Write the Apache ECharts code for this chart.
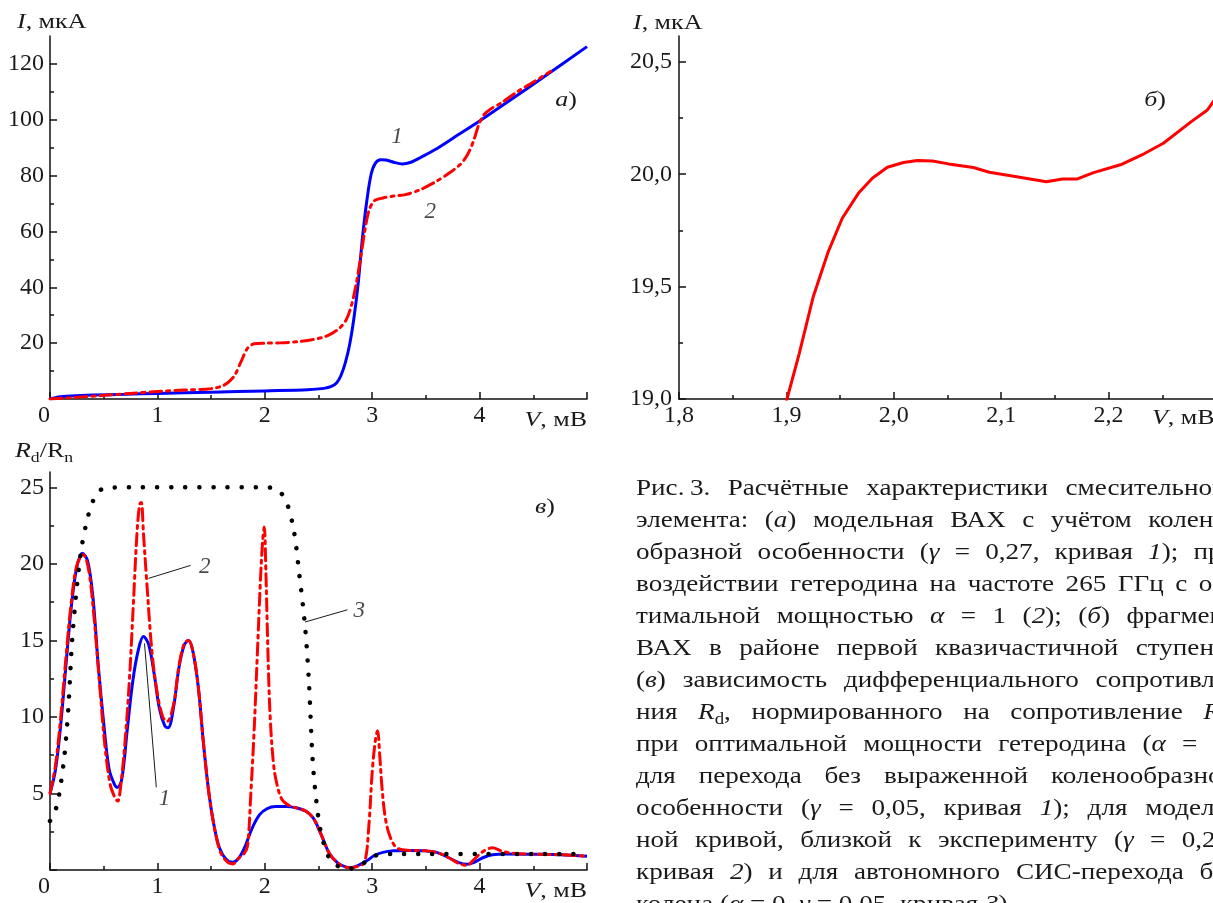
<!DOCTYPE html>
<html>
<head>
<meta charset="utf-8">
<title>Рис. 3</title>
<script src="https://cdn.jsdelivr.net/npm/echarts@6/dist/echarts.min.js"></script>
<style>
html, body { margin: 0; padding: 0; background: #fff; }
#main { width: 1213px; height: 903px; }
</style>
</head>
<body>
<div id="main"></div>
<script>
"use strict";
// (а) модельная ВАХ: кривая 1 и кривая 2
var ivcV1 = [0, 0.05, 0.1, 0.2, 0.4, 0.7, 1.0, 1.5, 2.0, 2.4, 2.55, 2.62, 2.67, 2.71, 2.75, 2.79, 2.83, 2.87, 2.91, 2.95, 2.99, 3.03, 3.08, 3.13, 3.2, 3.28, 3.36, 3.45, 3.6, 3.8, 4.0, 4.3, 4.6, 5.0];
var ivcI1 = [0, 0.5, 0.8, 1.1, 1.4, 1.7, 2.0, 2.4, 2.9, 3.3, 3.8, 4.5, 5.8, 8.5, 13, 19.5, 29, 41.6, 58, 71, 80.5, 84.5, 85.7, 85.6, 84.8, 84.2, 84.8, 86.5, 89.6, 94.6, 99.6, 107.4, 115.4, 126.2];
var ivcV2 = [0, 0.25, 0.5, 0.75, 1.0, 1.25, 1.5, 1.6, 1.66, 1.72, 1.78, 1.84, 1.9, 2.0, 2.15, 2.3, 2.45, 2.55, 2.63, 2.7, 2.76, 2.81, 2.85, 2.89, 2.93, 2.97, 3.02, 3.1, 3.2, 3.31, 3.45, 3.6, 3.72, 3.82, 3.88, 3.94, 3.99, 4.04, 4.1, 4.2, 4.35, 4.5, 4.66];
var ivcI2 = [0, 0.6, 1.3, 2.0, 2.7, 3.2, 3.7, 4.6, 6.0, 8.5, 13.5, 18.2, 19.8, 20.0, 20.1, 20.5, 21.3, 22.2, 23.6, 25.5, 28.5, 34, 41, 50, 60, 67.5, 71, 72, 72.7, 73.2, 75, 78, 81, 84, 87, 92, 98, 101.8, 103.8, 106, 110, 113.5, 117.3];

// (б) фрагмент ВАХ
var fragV = [1.900, 1.912, 1.925, 1.939, 1.952, 1.967, 1.980, 1.994, 2.009, 2.022, 2.036, 2.051, 2.074, 2.089, 2.113, 2.142, 2.157, 2.171, 2.186, 2.211, 2.233, 2.251, 2.277, 2.292, 2.300];
var fragI = [18.99, 19.203, 19.455, 19.656, 19.804, 19.915, 19.982, 20.031, 20.052, 20.061, 20.059, 20.046, 20.03, 20.009, 19.99, 19.967, 19.979, 19.979, 20.007, 20.042, 20.091, 20.138, 20.234, 20.286, 20.34];

// (в) Rd/Rn: кривые 1, 2, 3
var rdV1 = [0.00, 0.05, 0.10, 0.15, 0.20, 0.25, 0.30, 0.35, 0.40, 0.45, 0.50, 0.55, 0.60, 0.63, 0.67, 0.72, 0.77, 0.82, 0.87, 0.92, 0.97, 1.02, 1.07, 1.10, 1.15, 1.20, 1.25, 1.29, 1.33, 1.38, 1.43, 1.48, 1.53, 1.58, 1.64, 1.70, 1.76, 1.82, 1.88, 1.95, 2.02, 2.10, 2.20, 2.30, 2.38, 2.45, 2.52, 2.60, 2.68, 2.75, 2.80, 2.87, 2.95, 3.02, 3.10, 3.20, 3.35, 3.50, 3.60, 3.70, 3.80, 3.88, 3.95, 4.03, 4.12, 4.25, 4.50, 4.75, 5.00];
var rdR1 = [5.0, 6.5, 9.5, 13.5, 17.3, 19.8, 20.7, 20.2, 17.8, 13.3, 9.6, 6.6, 5.6, 5.4, 6.0, 9.2, 12.3, 14.3, 15.25, 14.7, 12.8, 10.5, 9.4, 9.3, 10.6, 13.2, 14.7, 15.0, 14.3, 12.0, 8.2, 5.0, 2.8, 1.4, 0.7, 0.5, 0.8, 1.6, 2.7, 3.6, 4.0, 4.15, 4.15, 4.05, 3.85, 3.4, 2.4, 1.1, 0.45, 0.2, 0.15, 0.3, 0.6, 0.95, 1.15, 1.25, 1.28, 1.25, 1.15, 0.85, 0.5, 0.37, 0.5, 0.8, 1.0, 1.05, 1.03, 1.0, 0.9];
var rdV2 = [0.00, 0.05, 0.10, 0.15, 0.20, 0.25, 0.31, 0.36, 0.41, 0.46, 0.51, 0.56, 0.60, 0.63, 0.66, 0.70, 0.74, 0.775, 0.81, 0.835, 0.85, 0.87, 0.90, 0.95, 1.00, 1.05, 1.09, 1.15, 1.20, 1.25, 1.29, 1.33, 1.38, 1.43, 1.48, 1.53, 1.58, 1.64, 1.70, 1.76, 1.81, 1.84, 1.87, 1.90, 1.93, 1.96, 1.98, 1.995, 2.01, 2.03, 2.05, 2.08, 2.11, 2.16, 2.23, 2.30, 2.38, 2.45, 2.52, 2.60, 2.68, 2.75, 2.80, 2.87, 2.93, 2.97, 3.00, 3.03, 3.05, 3.07, 3.09, 3.12, 3.16, 3.22, 3.30, 3.50, 3.60, 3.70, 3.80, 3.88, 3.95, 4.03, 4.12, 4.20, 4.30, 4.50, 4.75, 5.00];
var rdR2 = [5.0, 6.8, 10.0, 14.0, 17.6, 19.9, 20.6, 19.6, 16.5, 12.3, 8.2, 5.6, 4.8, 4.5, 5.6, 8.5, 12.5, 17.2, 22.0, 23.9, 24.0, 22.0, 18.9, 14.2, 11.5, 10.0, 9.7, 10.8, 13.3, 14.8, 15.0, 14.3, 12.0, 8.2, 5.0, 2.8, 1.3, 0.6, 0.4, 0.8, 1.1, 1.6, 5.0, 9.0, 14.0, 19.0, 21.5, 22.4, 19.5, 14.0, 10.0, 7.0, 5.7, 4.6, 4.2, 4.05, 3.85, 3.4, 2.4, 1.1, 0.45, 0.2, 0.15, 0.25, 0.5, 3.0, 6.4, 8.5, 9.1, 7.5, 5.5, 3.5, 2.3, 1.5, 1.3, 1.25, 1.15, 0.85, 0.45, 0.3, 0.7, 1.2, 1.45, 1.25, 1.1, 1.03, 1.0, 0.9];
var rdV3 = [0, 0.03, 0.064, 0.10, 0.135, 0.17, 0.206, 0.25, 0.295, 0.35, 0.40, 0.45, 0.51, 0.8, 1.2, 1.6, 2.0, 2.07, 2.14, 2.2, 2.27, 2.32, 2.375, 2.41, 2.445, 2.48, 2.52, 2.57, 2.62, 2.7, 2.8, 2.88, 2.94, 3.0, 3.09, 3.2, 3.5, 4.0, 4.5, 5.0];
var rdR3 = [3.2, 3.6, 4.2, 5.6, 7.5, 10.5, 15.0, 18.5, 21.1, 23.0, 24.1, 24.7, 24.95, 25, 25, 25, 25, 24.95, 24.7, 24.1, 22.2, 19.4, 15.9, 12.4, 7.25, 4.5, 2.5, 1.3, 0.55, 0.2, 0.1, 0.25, 0.55, 0.85, 1.04, 1.05, 1.05, 1.05, 1.05, 1.05];

// выноски и номера кривых
var leadC1 = [[0.88, 14.8], [0.99, 5.4]];
var leadC2 = [[0.917, 19.05], [1.31, 19.9]];
var leadC3 = [[2.375, 16.2], [2.77, 17.0]];
var tagsA = [[3.23, 94, "1"], [3.54, 67, "2"]];
var tagsC = [[1.067, 4.65, "1"], [1.44, 19.8, "2"], [2.88, 16.9, "3"]];

// деления осей
var vMajor = [0, 1, 2, 3, 4, 5], vMinor = [0.5, 1.5, 2.5, 3.5, 4.5], vLabels = [0, 1, 2, 3, 4];
var iMajor = [0, 20, 40, 60, 80, 100, 120], iMinor = [10, 30, 50, 70, 90, 110], iLabels = [20, 40, 60, 80, 100, 120];
var fvMajor = [1.8, 1.9, 2.0, 2.1, 2.2, 2.3], fvMinor = [1.85, 1.95, 2.05, 2.15, 2.25], fvLabels = [1.8, 1.9, 2.0, 2.1, 2.2];
var fiMajor = [19, 19.5, 20, 20.5], fiMinor = [19.25, 19.75, 20.25], fiLabels = [19, 19.5, 20, 20.5];
var rMajor = [0, 5, 10, 15, 20, 25], rMinor = [2.5, 7.5, 12.5, 17.5, 22.5], rLabels = [5, 10, 15, 20, 25];

var captionLines = [
    "Рис.\u20093. Расчётные характеристики смесительного",
    "элемента: ({i|а}) модельная ВАХ с учётом колено-",
    "образной особенности ({i|γ} = 0,27, кривая {i|1}); при",
    "воздействии гетеродина на частоте 265 ГГц с оп-",
    "тимальной мощностью {i|α} = 1 ({i|2}); ({i|б}) фрагмент",
    "ВАХ в районе первой квазичастичной ступени;",
    "({i|в}) зависимость дифференциального сопротивле-",
    "ния {i|R}{s|d}, нормированного на сопротивление {i|R}{s|n},",
    "при оптимальной мощности гетеродина ({i|α} = 1)",
    "для перехода без выраженной коленообразной",
    "особенности ({i|γ} = 0,05, кривая {i|1}); для модель-",
    "ной кривой, близкой к эксперименту ({i|γ} = 0,27,",
    "кривая {i|2}) и для автономного СИС-перехода без",
    "колена ({i|α} = 0, {i|γ} = 0,05, кривая {i|3})."
];

var INK = "#1a1a1a", SERIF = "Liberation Serif";
var WIDEN = 1.18; // латинский Times уже шрифта оригинала

function zip(xs, ys) {
    return xs.map(function (x, i) { return [x, ys[i]]; });
}
function comma(v) {
    return v.toFixed(1).replace(".", ",");
}

// пара осей: основная (линия, длинные деления, подписи) и вспомогательная (короткие деления)
function axisPair(dim, grid, min, max, major, minor, labels, fmt, labelExtra) {
    var base = {
        type: "value", gridIndex: grid, min: min, max: max,
        position: dim === "x" ? "bottom" : "left",
        splitLine: {show: false}
    };
    var main = Object.assign({}, base, {
        axisLine: {show: true, onZero: false, lineStyle: {color: "#111", width: 1.5}},
        axisTick: {show: true, inside: true, length: 7, customValues: major, lineStyle: {color: "#111", width: 1.5}},
        axisLabel: Object.assign({
            show: true, customValues: labels, formatter: fmt, color: INK,
            fontFamily: SERIF, fontSize: 24, margin: dim === "x" ? 5 : 6
        }, labelExtra || {})
    });
    var sub = Object.assign({}, base, {
        axisLine: {show: false, onZero: false},
        axisTick: {show: true, inside: true, length: 4, customValues: minor, lineStyle: {color: "#111", width: 1.5}},
        axisLabel: {show: false}
    });
    return [main, sub];
}

var xAxes = [].concat(
    axisPair("x", 0, 0, 5, vMajor, vMinor, vLabels, String, {alignMinLabel: "right"}),
    axisPair("x", 1, 1.8, 2.3, fvMajor, fvMinor, fvLabels, comma),
    axisPair("x", 2, 0, 5, vMajor, vMinor, vLabels, String, {alignMinLabel: "right"})
);
var yAxes = [].concat(
    axisPair("y", 0, 0, 130, iMajor, iMinor, iLabels, String),
    axisPair("y", 1, 19, 20.615, fiMajor, fiMinor, fiLabels, comma, {margin: 7}),
    axisPair("y", 2, 0, 26, rMajor, rMinor, rLabels, String)
);

var dashDot = [12, 5, 3, 5];
function curve(ax, data, color, type, width, smooth, z) {
    return {
        type: "line", xAxisIndex: ax, yAxisIndex: ax, data: data, showSymbol: false, symbol: "none",
        smooth: smooth, z: z, silent: true,
        lineStyle: {color: color, width: width, type: type, cap: type === "solid" ? "butt" : "round"}
    };
}
function tags(ax, data) {
    return {
        type: "scatter", xAxisIndex: ax, yAxisIndex: ax, data: data, symbolSize: 1, z: 7, silent: true,
        itemStyle: {color: "rgba(0,0,0,0)"},
        label: {
            show: true, position: "inside", color: INK, fontFamily: SERIF, fontStyle: "italic", fontSize: 23,
            formatter: function (p) { return p.data[2]; }
        }
    };
}

var series = [
    curve(0, zip(ivcV1, ivcI1), "#0000ff", "solid", 3, 0.3, 3),
    curve(0, zip(ivcV2, ivcI2), "#ff0000", dashDot, 3, 0.3, 4),
    curve(2, zip(fragV, fragI), "#ff0000", "solid", 3, false, 3),
    curve(4, zip(rdV1, rdR1), "#0000ff", "solid", 3, 0.35, 3),
    curve(4, zip(rdV2, rdR2), "#ff0000", dashDot, 3, 0.35, 4),
    curve(4, zip(rdV3, rdR3), "#000000", [0.1, 14], 4.5, 0.3, 5),
    curve(4, leadC1, INK, "solid", 1, false, 6),
    curve(4, leadC2, INK, "solid", 1, false, 6),
    curve(4, leadC3, INK, "solid", 1, false, 6),
    tags(0, tagsA),
    tags(4, tagsC)
];

// текст: {i|…} курсив, {s|…} нижний индекс; глифы растянуты по горизонтали на WIDEN
var meas = document.createElement("canvas").getContext("2d");
function pieces(str) {
    var out = [], re = /\{([is])\|([^}]*)\}|([^{]+)/g, m;
    while ((m = re.exec(str))) out.push(m[1] ? {k: m[1], t: m[2]} : {k: "r", t: m[3]});
    return out;
}
function sizeFor(k, size) {
    return k === "s" ? Math.round(size * 0.7) : size;
}
function cssFont(k, size) {
    return (k === "i" ? "italic " : "normal ") + sizeFor(k, size) + 'px "' + SERIF + '"';
}
function pieceWidth(p, size) {
    meas.font = cssFont(p.k, size);
    return meas.measureText(p.t).width * WIDEN;
}
function textWidth(str, size) {
    return pieces(str).reduce(function (w, p) { return w + pieceWidth(p, size); }, 0);
}
function run(str, x, y, size, els) {
    pieces(str).forEach(function (p) {
        els.push({
            type: "text", x: x, y: y + (p.k === "s" ? size * 0.3 : 0), scaleX: WIDEN, silent: true,
            style: {
                text: p.t, fill: INK, fontFamily: SERIF, fontSize: sizeFor(p.k, size),
                fontStyle: p.k === "i" ? "italic" : "normal",
                textVerticalAlign: "middle", verticalAlign: "middle"
            }
        });
        x += pieceWidth(p, size);
    });
}

var els = [];
var TITLE = 22;
run("{i|I}, мкА", 17, 22, TITLE, els);
run("{i|I}, мкА", 633, 23, TITLE, els);
run("{i|R}{s|d}/R{s|n}", 15, 451, TITLE, els);
run("{i|V}, мВ", 587 - textWidth("{i|V}, мВ", TITLE), 420, TITLE, els);
run("{i|V}, мВ", 587 - textWidth("{i|V}, мВ", TITLE), 891, TITLE, els);
run("{i|V}, мВ", 1152, 418, TITLE, els);
run("{i|а})", 566 - textWidth("{i|а})", TITLE) / 2, 100, TITLE, els);
run("{i|б})", 1155 - textWidth("{i|б})", TITLE) / 2, 100, TITLE, els);
run("{i|в})", 545 - textWidth("{i|в})", TITLE) / 2, 507, TITLE, els);

// подпись: выравнивание по ширине колонки
var CAP_LEFT = 636, CAP_RIGHT = 1236, CAP_TOP = 489, CAP_STEP = 32, CAP_SIZE = 23;
captionLines.forEach(function (line, i) {
    var words = line.split(" ");
    var ws = words.map(function (w) { return textWidth(w, CAP_SIZE); });
    var total = ws.reduce(function (a, b) { return a + b; }, 0);
    var space = textWidth(" ", CAP_SIZE);
    var gap = i < captionLines.length - 1 ? Math.max(space, (CAP_RIGHT - CAP_LEFT - total) / (words.length - 1)) : space;
    var x = CAP_LEFT, y = CAP_TOP + i * CAP_STEP;
    words.forEach(function (w, j) {
        run(w, x, y, CAP_SIZE, els);
        x += ws[j] + gap;
    });
});

var chart = echarts.init(document.getElementById("main"), null, {renderer: "canvas"});
chart.setOption({
    animation: false,
    backgroundColor: "#ffffff",
    grid: [
        {left: 50, top: 36, width: 537, height: 363, outerBoundsMode: "none"},
        {left: 679, top: 36, width: 537, height: 363, outerBoundsMode: "none"},
        {left: 50, top: 472, width: 537, height: 398, outerBoundsMode: "none"}
    ],
    xAxis: xAxes,
    yAxis: yAxes,
    series: series,
    graphic: {elements: els}
});
</script>
</body>
</html>
